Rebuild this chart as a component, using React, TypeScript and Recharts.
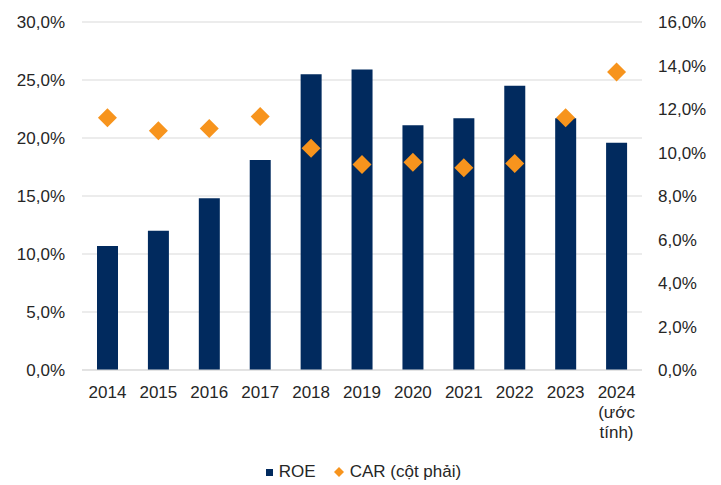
import React from "react";
import { ComposedChart, Bar, Line, XAxis, YAxis, CartesianGrid, Legend } from "recharts";

const years = ["2014", "2015", "2016", "2017", "2018", "2019", "2020", "2021", "2022", "2023", "2024 (ước tính)"];
const roe = [10.7, 12.0, 14.8, 18.1, 25.5, 25.9, 21.1, 21.7, 24.5, 21.7, 19.6];
const car = [11.6, 11.0, 11.1, 11.65, 10.2, 9.45, 9.55, 9.3, 9.5, 11.6, 13.7];
const leftTicks = [0, 5, 10, 15, 20, 25, 30];
const rightTicks = [0, 2, 4, 6, 8, 10, 12, 14, 16];
const seriesNames = ["ROE", "CAR (cột phải)"];

const data = years.map((y, i) => ({ year: y, roe: roe[i], car: car[i] }));

const NAVY = "#012A5E";
const ORANGE = "#F7941D";
const TEXT = "#262626";
const FONT = "'Liberation Sans', Arial, sans-serif";
const FS = 17;

const fmt = (v: number) => v.toFixed(1).replace(".", ",") + "%";

const XTick = (props: any) => {
  const { x, y, payload } = props;
  const lines = String(payload.value).split(" ");
  return (
    <text x={x} y={y} textAnchor="middle" fill={TEXT} fontSize={FS} fontFamily={FONT}>
      {lines.map((l, i) => (
        <tspan key={i} x={x} dy={i === 0 ? "0.71em" : 20}>
          {l}
        </tspan>
      ))}
    </text>
  );
};

const Diamond = (props: any) => {
  const { cx, cy } = props;
  if (cx == null || cy == null) return <g key={props.index} />;
  const r = 9.5;
  return (
    <polygon
      key={props.index}
      points={`${cx},${cy - r} ${cx + r},${cy} ${cx},${cy + r} ${cx - r},${cy}`}
      fill={ORANGE}
    />
  );
};

const LegendContent = () => (
  <div
    style={{
      height: 20,
      display: "flex",
      justifyContent: "center",
      alignItems: "center",
      fontFamily: FONT,
      fontSize: FS,
      color: TEXT,
      paddingLeft: 6,
    }}
  >
    <span style={{ width: 7, height: 7, background: NAVY, display: "inline-block", marginRight: 6 }} />
    <span>{seriesNames[0]}</span>
    <svg width={10} height={10} style={{ marginLeft: 18, marginRight: 6 }}>
      <polygon points="5,0 10,5 5,10 0,5" fill={ORANGE} />
    </svg>
    <span>{seriesNames[1]}</span>
  </div>
);

export default function App() {
  return (
    <div style={{ position: "absolute", left: 0, top: 0, background: "#fff" }}>
      <ComposedChart
        width={721}
        height={485}
        data={data}
        margin={{ top: 22, right: 0, bottom: 25, left: 0 }}
        barCategoryGap={0}
      >
        <CartesianGrid yAxisId="left" vertical={false} stroke="#d9d9d9" />
        <XAxis
          dataKey="year"
          tick={<XTick />}
          tickLine={false}
          axisLine={{ stroke: "#d9d9d9" }}
          interval={0}
          height={70}
          tickSize={6}
          tickMargin={10}
        />
        <YAxis
          yAxisId="left"
          domain={[0, 30]}
          ticks={leftTicks}
          tickFormatter={fmt}
          axisLine={false}
          tickLine={false}
          width={82}
          tickSize={6}
          tickMargin={11}
          tick={{ fill: TEXT, fontSize: FS, fontFamily: FONT }}
        />
        <YAxis
          yAxisId="right"
          orientation="right"
          domain={[0, 16]}
          ticks={rightTicks}
          tickFormatter={fmt}
          axisLine={false}
          tickLine={false}
          width={79}
          tickSize={6}
          tickMargin={10}
          tick={{ fill: TEXT, fontSize: FS, fontFamily: FONT }}
        />
        <Bar yAxisId="left" dataKey="roe" name={seriesNames[0]} fill={NAVY} barSize={21} isAnimationActive={false} />
        <Line
          yAxisId="right"
          dataKey="car"
          name={seriesNames[1]}
          stroke="none"
          dot={(p: any) => <Diamond key={p.index} {...p} />}
          activeDot={false}
          isAnimationActive={false}
        />
        <Legend verticalAlign="bottom" wrapperStyle={{ bottom: 3, left: 0, width: 721 }} content={<LegendContent />} />
      </ComposedChart>
    </div>
  );
}
